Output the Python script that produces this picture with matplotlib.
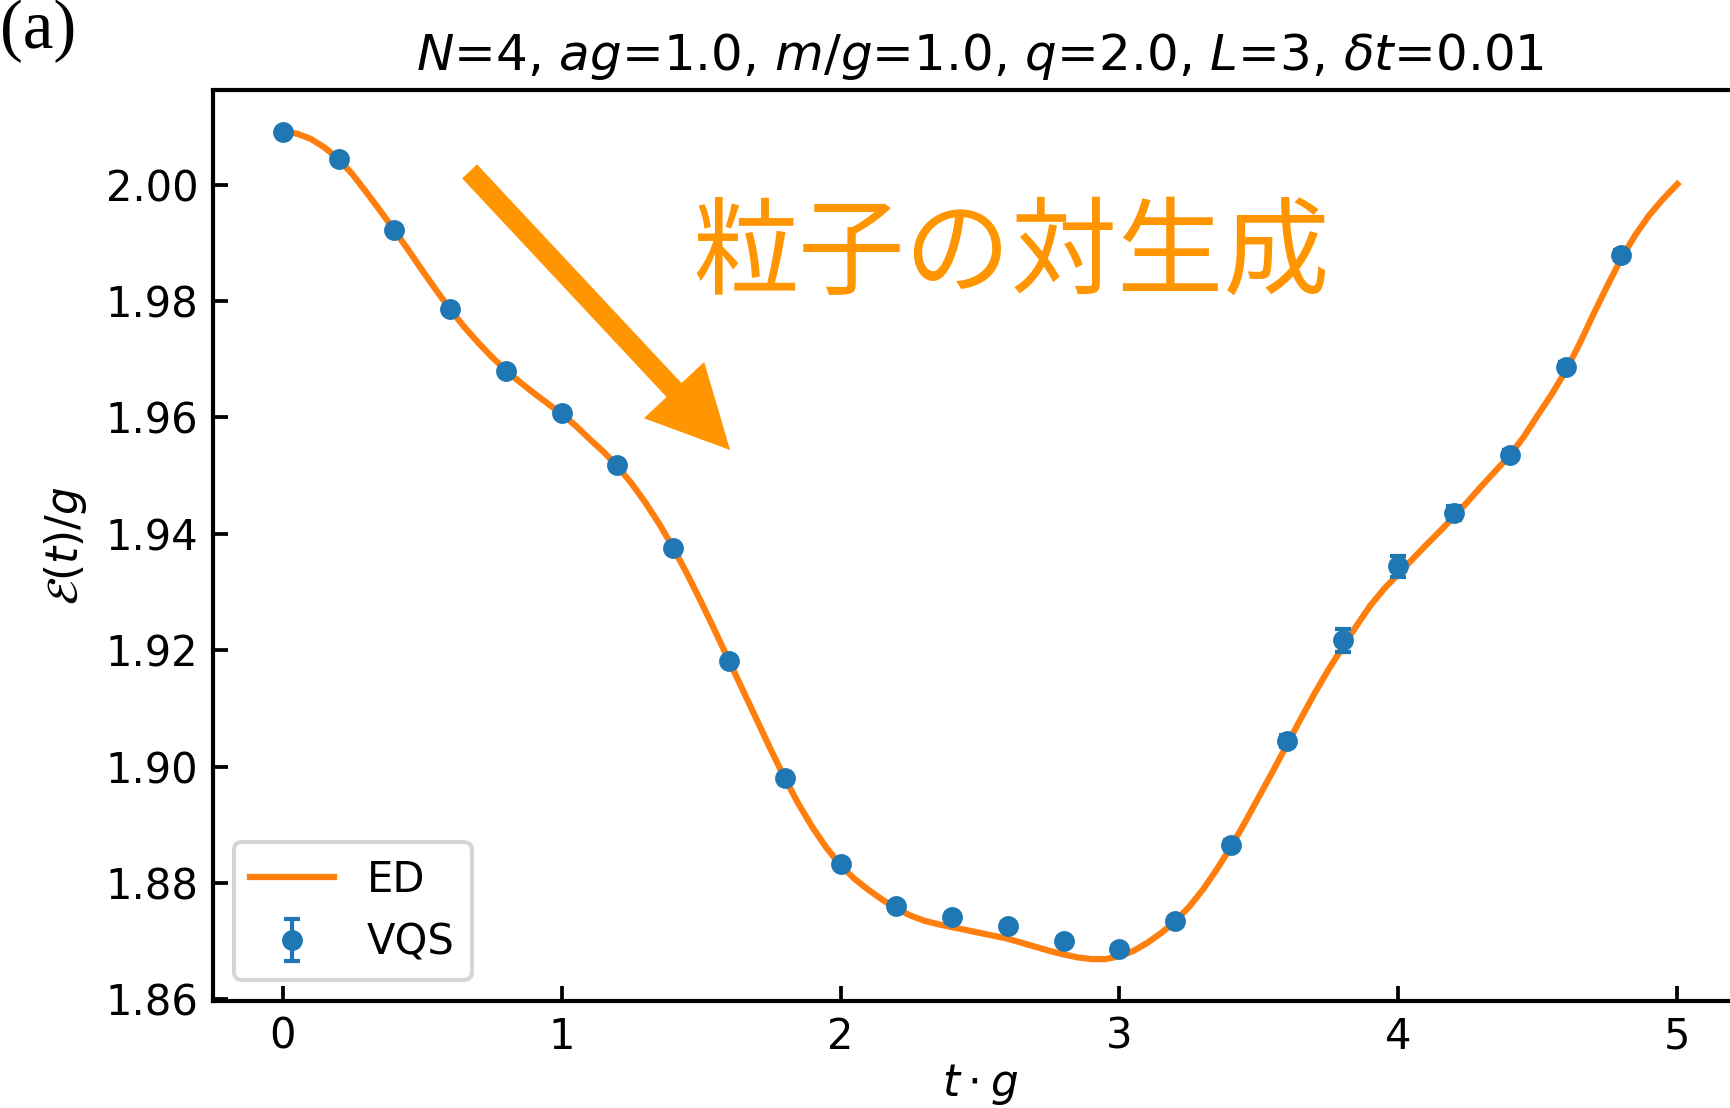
import numpy as np
import matplotlib
matplotlib.use("Agg")
import matplotlib.pyplot as plt

# VQS data points
t_vqs = [0.0, 0.2, 0.4, 0.6, 0.8, 1.0, 1.2, 1.4, 1.6, 1.8, 2.0, 2.2, 2.4,
         2.6, 2.8, 3.0, 3.2, 3.4, 3.6, 3.8, 4.0, 4.2, 4.4, 4.6, 4.8]
e_vqs = [2.0090, 2.0044, 1.9922, 1.9786, 1.9680, 1.9607, 1.9518, 1.9376,
         1.9181, 1.8980, 1.8833, 1.8761, 1.8741, 1.8726, 1.8700, 1.8687,
         1.8735, 1.8865, 1.9044, 1.9217, 1.9344, 1.9436, 1.9536, 1.9687,
         1.9879]
err_vqs = [0.0002, 0.0002, 0.0003, 0.0003, 0.0003, 0.0003, 0.0004, 0.0004,
           0.0004, 0.0005, 0.0006, 0.0005, 0.0008, 0.0007, 0.0007, 0.0006,
           0.0006, 0.0009, 0.0010, 0.0020, 0.0018, 0.0012, 0.0008, 0.0008,
           0.0008]

# ED curve, read every 0.05
t_ed = [0.00, 0.05, 0.10, 0.15, 0.20, 0.25, 0.30, 0.35, 0.40, 0.45,
        0.50, 0.55, 0.60, 0.65, 0.70, 0.75, 0.80, 0.85, 0.90, 0.95,
        1.00, 1.05, 1.10, 1.15, 1.20, 1.25, 1.30, 1.35, 1.40, 1.45,
        1.50, 1.55, 1.60, 1.65, 1.70, 1.75, 1.80, 1.85, 1.90, 1.95,
        2.00, 2.05, 2.10, 2.15, 2.20, 2.25, 2.30, 2.35, 2.40, 2.45,
        2.50, 2.55, 2.60, 2.65, 2.70, 2.75, 2.80, 2.85, 2.90, 2.95,
        3.00, 3.05, 3.10, 3.15, 3.20, 3.25, 3.30, 3.35, 3.40, 3.45,
        3.50, 3.55, 3.60, 3.65, 3.70, 3.75, 3.80, 3.85, 3.90, 3.95,
        4.00, 4.05, 4.10, 4.15, 4.20, 4.25, 4.30, 4.35, 4.40, 4.45,
        4.50, 4.55, 4.60, 4.65, 4.70, 4.75, 4.80, 4.85, 4.90, 4.95,
        5.00]
e_ed = [2.0091, 2.0088, 2.0079, 2.0064, 2.0044, 2.0018, 1.9987, 1.9955, 1.9922, 1.9888,
        1.9853, 1.9819, 1.9786, 1.9756, 1.9729, 1.9704, 1.9681, 1.9661, 1.9642, 1.9624,
        1.9606, 1.9586, 1.9563, 1.9541, 1.9516, 1.9487, 1.9454, 1.9417, 1.9376, 1.9331,
        1.9283, 1.9233, 1.9182, 1.9131, 1.9080, 1.9029, 1.8980, 1.8935, 1.8895, 1.8860,
        1.8830, 1.8807, 1.8788, 1.8771, 1.8756, 1.8744, 1.8735, 1.8729, 1.8724, 1.8719,
        1.8714, 1.8709, 1.8704, 1.8697, 1.8690, 1.8683, 1.8677, 1.8672, 1.8669, 1.8669,
        1.8674, 1.8683, 1.8697, 1.8714, 1.8734, 1.8759, 1.8789, 1.8824, 1.8862, 1.8904,
        1.8948, 1.8992, 1.9037, 1.9082, 1.9126, 1.9167, 1.9205, 1.9242, 1.9277, 1.9306,
        1.9331, 1.9356, 1.9381, 1.9405, 1.9430, 1.9456, 1.9483, 1.9509, 1.9535, 1.9567,
        1.9604, 1.9640, 1.9680, 1.9727, 1.9778, 1.9827, 1.9874, 1.9914, 1.9948, 1.9976,
        2.0001]

title = r"$N$=4, $ag$=1.0, $m/g$=1.0, $q$=2.0, $L$=3, $\delta t$=0.01"
note = "粒子の対生成"
note_color = "#ff9500"

fig = plt.figure(figsize=(1731 / 300, 1108 / 300), dpi=300)
ax = fig.add_axes([213 / 1731, 107 / 1108, 1534 / 1731, 910.5 / 1108])

ax.plot(t_ed, e_ed, color="tab:orange", lw=1.5, label="ED", zorder=2)
ax.errorbar(t_vqs, e_vqs, yerr=err_vqs, fmt="o", color="tab:blue", ms=4,
            capsize=2, capthick=1, elinewidth=1, label="VQS", zorder=3)

ax.set_xlim(-0.25, 5.25)
ax.set_ylim(1.8597, 2.0162)
ax.set_xticks([0, 1, 2, 3, 4, 5])
ax.set_yticks([1.86, 1.88, 1.90, 1.92, 1.94, 1.96, 1.98, 2.00])
ax.tick_params(direction="in", labelsize=10, width=0.9)
for sp in ax.spines.values():
    sp.set_linewidth(1.0)

ax.set_xlabel(r"$t \cdot g$", fontsize=10.5, labelpad=1)
ax.set_ylabel(r"$\mathcal{E}(t)/g$", fontsize=10.5)
ax.set_title(title, fontsize=12, pad=5)
ax.legend(loc="lower left", fontsize=10)

# arrow and label
ax.annotate("", xy=(1.604, 1.9544), xytext=(0.670, 2.0023),
            arrowprops=dict(arrowstyle="simple,head_length=19.7,head_width=19.8,tail_width=4.9",
                            mutation_scale=1, color=note_color, lw=0,
                            shrinkA=0, shrinkB=0))
ax.text(2.61, 1.9878, note, fontsize=25.5, color=note_color,
        family=["Noto Sans CJK JP", "DejaVu Sans"], ha="center", va="center")

fig.text(0.0, 1.0, "(a)", family="Liberation Serif", fontsize=16.5,
         ha="left", va="top")

fig.savefig("out.png", dpi=300)
